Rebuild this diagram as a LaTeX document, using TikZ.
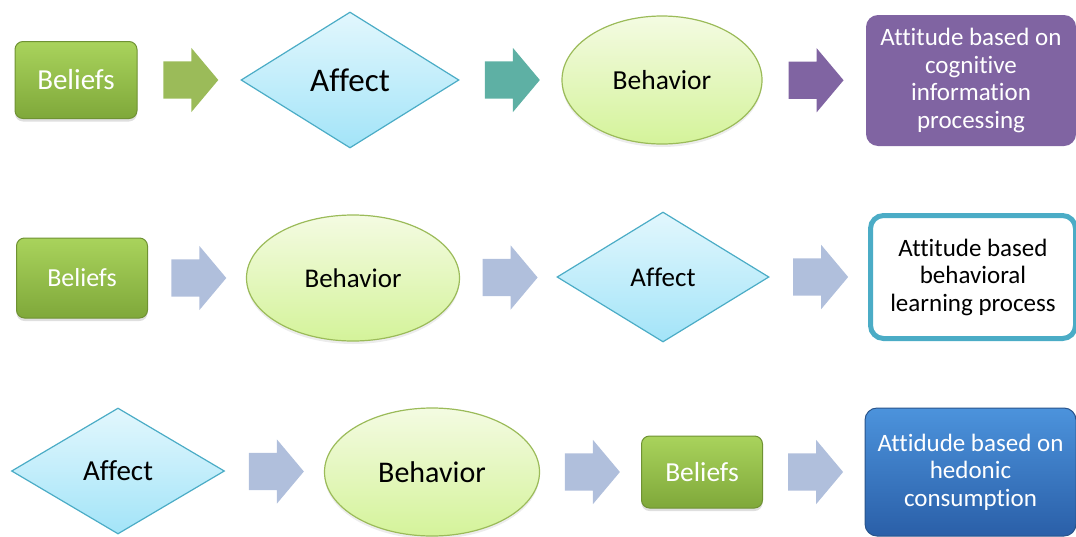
\documentclass[tikz,border=0pt]{standalone}
\usepackage{fontspec}
\setmainfont[Ligatures={NoCommon,NoContextual,NoRare},RawFeature={-liga;-clig;-dlig}]{Carlito}
\usetikzlibrary{shapes.geometric,shapes.arrows,shadows}
\definecolor{leaf}{HTML}{9BBB59}
\definecolor{leaftop}{HTML}{A9D35C}
\definecolor{leafbot}{HTML}{7FA83A}
\definecolor{leafline}{HTML}{6F9233}
\definecolor{aqua}{HTML}{4BACC6}
\definecolor{teal}{HTML}{5EB0A4}
\definecolor{plum}{HTML}{8064A2}
\definecolor{steel}{HTML}{B0BFDC}
\definecolor{skytop}{HTML}{E2F7FD}
\definecolor{skybot}{HTML}{A3E4F8}
\definecolor{limetop}{HTML}{F4FBE2}
\definecolor{limebot}{HTML}{D4F39A}
\definecolor{ocean}{HTML}{3A78C6}
\definecolor{oceantop}{HTML}{4C93DC}
\definecolor{oceanbot}{HTML}{2A5FA8}
\newcommand{\fs}[1]{\fontsize{#1}{#1}\selectfont}

\begin{document}
\begin{tikzpicture}[
  x=1pt,y=-1pt,
  beliefs/.style={rectangle,rounded corners=8pt,draw=leafline,line width=1pt,
    top color=leaftop,bottom color=leafbot,text=white,inner sep=0pt,
    drop shadow={shadow xshift=0pt,shadow yshift=-3pt,opacity=.25}},
  affect/.style={diamond,draw=aqua,line width=1.2pt,top color=skytop,
    bottom color=skybot,inner sep=0pt},
  behavior/.style={ellipse,draw=leaf,line width=1.2pt,top color=limetop,
    bottom color=limebot,inner sep=0pt,
    drop shadow={shadow xshift=0pt,shadow yshift=-3pt,opacity=.15}},
  outcome/.style={rectangle,rounded corners=12pt,align=center,inner sep=0pt,
    font=\fontsize{25}{27.5}\selectfont},
  blockarrow/.style={single arrow,draw=none,inner xsep=0pt,inner ysep=18.5pt,
    minimum height=55pt,single arrow head extend=13.5pt,
    single arrow tip angle=100,xshift=-6pt}
]
\useasboundingbox (0,0) rectangle (1076,536);

% cognitive route
\node[beliefs,minimum width=122,minimum height=77,font=\fs{29}] (b1) at (76,80) {Beliefs};
\node[affect,minimum width=218,minimum height=136,font=\fs{33}] (a1) at (350,80) {Affect};
\node[behavior,minimum width=200,minimum height=128,font=\fs{27.5}] (h1) at (662,80) {Behavior};
\node[outcome,fill=plum,text=white,minimum width=210,minimum height=131] (t1) at (971,80.5)
  {Attitude based on\\cognitive\\information\\processing};
\path (b1.east) -- node[blockarrow,fill=leaf] (ar11) {} (a1.west);
\path (a1.east) -- node[blockarrow,fill=teal] (ar12) {} (h1.west);
\path (h1.east) -- node[blockarrow,fill=plum] (ar13) {} (t1.west);

% behavioral route
\node[beliefs,minimum width=131,minimum height=80,font=\fs{26}] (b2) at (82,278) {Beliefs};
\node[behavior,minimum width=213,minimum height=126,font=\fs{27}] (h2) at (353,278) {Behavior};
\node[affect,minimum width=212,minimum height=130,font=\fs{27}] (a2) at (663,277) {Affect};
\node[outcome,draw=aqua,line width=5pt,fill=white,minimum width=205,minimum height=123,
  rounded corners=13pt] (t2) at (973,277)
  {Attitude based\\behavioral\\learning process};
\path (b2.east) -- node[blockarrow,fill=steel] (ar21) {} (h2.west);
\path (h2.east) -- node[blockarrow,fill=steel] (ar22) {} (a2.west);
\path (a2.east) -- node[blockarrow,fill=steel] (ar23) {} (t2.west);

% hedonic route
\node[affect,minimum width=213,minimum height=126,font=\fs{29}] (a3) at (118,471) {Affect};
\node[behavior,minimum width=215,minimum height=128,font=\fs{30}] (h3) at (432,472) {Behavior};
\node[beliefs,minimum width=121,minimum height=72,font=\fs{27.5}] (b3) at (702,472) {Beliefs};
\node[outcome,draw=ocean!70!black,line width=1pt,top color=oceantop,bottom color=oceanbot,
  text=white,minimum width=211,minimum height=128] (t3) at (970.5,472)
  {Attidude based on\\hedonic\\consumption};
\path (a3.east) -- node[blockarrow,fill=steel] (ar31) {} (h3.west);
\path (h3.east) -- node[blockarrow,fill=steel] (ar32) {} (b3.west);
\path (b3.east) -- node[blockarrow,fill=steel] (ar33) {} (t3.west);
\end{tikzpicture}
\end{document}
